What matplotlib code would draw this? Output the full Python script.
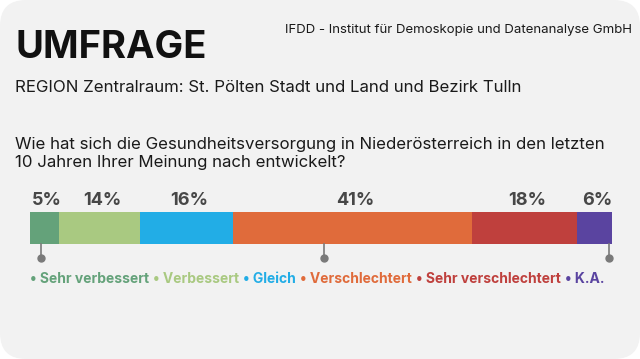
import matplotlib.pyplot as plt
from matplotlib.patches import FancyBboxPatch

# survey answers (percent)
categories = ['Sehr verbessert', 'Verbessert', 'Gleich', 'Verschlechtert',
              'Sehr verschlechtert', 'K.A.']
values = [5, 14, 16, 41, 18, 6]
colors = ['#64a27a', '#a9c981', '#22ade6', '#e06b3b', '#bf403d', '#5a44a0']
label_texts = ['5%', '14%', '16%', '41%', '18%', '6%']
tick_positions = [2, 50.5, 99.5]

W, H = 640, 359
plt.rcParams['font.family'] = ['Inter', 'DejaVu Sans']

fig = plt.figure(figsize=(W / 100, H / 100), dpi=100)
fig.patch.set_facecolor('white')

# background panel with rounded corners (pixel coords)
bg = fig.add_axes([0, 0, 1, 1])
bg.set_xlim(0, W)
bg.set_ylim(H, 0)
bg.axis('off')
bg.add_patch(FancyBboxPatch((14, 14), W - 28, H - 28,
                            boxstyle='round,pad=14,rounding_size=26',
                            fc='#f2f2f2', ec='none'))

bg.text(15, 48, 'UMFRAGE', fontsize=27.5, fontweight='bold', color='#111111',
        va='center', ha='left')
bg.text(632, 30, 'IFDD - Institut für Demoskopie und Datenanalyse GmbH',
        fontsize=9.5, color='#1a1a1a', va='center', ha='right')
bg.text(15, 87, 'REGION Zentralraum: St. Pölten Stadt und Land und Bezirk Tulln',
        fontsize=12.1, color='#1a1a1a', va='center', ha='left')
bg.text(15, 154, 'Wie hat sich die Gesundheitsversorgung in Niederösterreich in den letzten\n'
        '10 Jahren Ihrer Meinung nach entwickelt?',
        fontsize=12.1, color='#1a1a1a', va='center', ha='left', linespacing=1.25)

# stacked bar
left_px, right_px, top_px, bot_px = 29.5, 612, 212, 244
ax = fig.add_axes([left_px / W, 1 - bot_px / H, (right_px - left_px) / W,
                   (bot_px - top_px) / H])
ax.set_xlim(0, sum(values))
ax.set_ylim(0, 1)
ax.axis('off')

start = 0
for v, c, t in zip(values, colors, label_texts):
    ax.barh(0.5, v, left=start, height=1, color=c, edgecolor='none')
    ax.annotate(t, (start + v / 2, 1), xytext=(2, 8), textcoords='offset points',
                ha='center', va='center', fontsize=13, fontweight='bold',
                color='#474747', annotation_clip=False)
    start += v

for tp in tick_positions:
    ax.plot([tp, tp], [0, -0.45], color='#7a7a7a', lw=1.2, clip_on=False)
    ax.plot([tp], [-0.45], 'o', color='#7a7a7a', ms=5, clip_on=False)

# legend as coloured text items
fig.canvas.draw()
renderer = fig.canvas.get_renderer()
x = 30
for cat, c in zip(categories, colors):
    txt = bg.text(x, 279, '• ' + cat, fontsize=10, fontweight='bold', color=c,
                  va='center', ha='left')
    bb = txt.get_window_extent(renderer)
    x += bb.width + 4

fig.savefig('out.png', dpi=100, facecolor=fig.get_facecolor())
